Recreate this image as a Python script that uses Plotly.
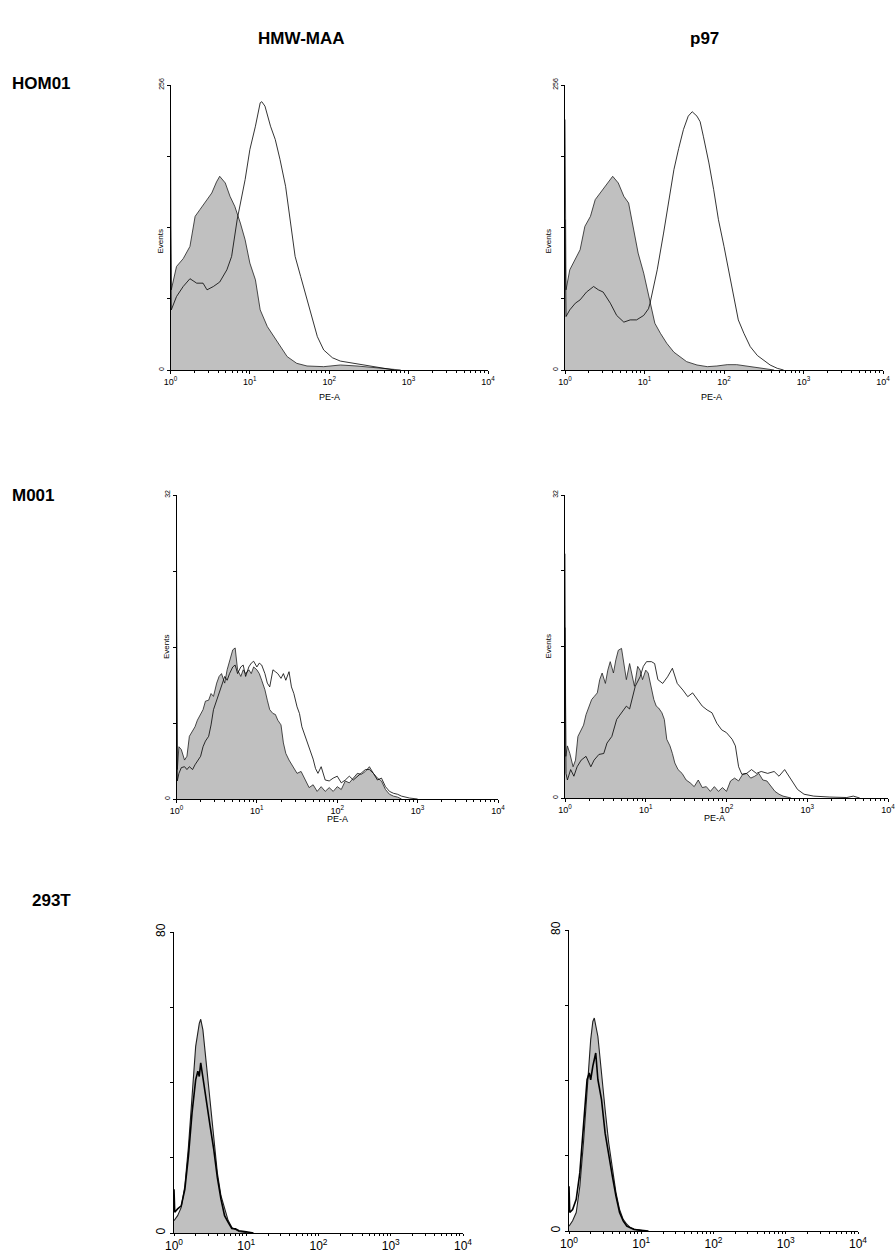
import numpy as np
import plotly.graph_objects as go

# ---------------- data (log10 PE-A position, events) ----------------
# HOM01 / HMW-MAA
HOM01_HMW_CTRL_LOG = [0, 0.01, 0.076, 0.16, 0.245, 0.31, 0.37, 0.456, 0.52, 0.58, 0.62, 0.69, 0.75, 0.81, 0.88, 0.94,
                      1.0, 1.07, 1.13, 1.22, 1.30, 1.38, 1.47, 1.59, 1.72, 1.93, 2.14, 2.35, 2.57, 2.78, 2.9]
HOM01_HMW_CTRL_Y = [225, 72, 93, 100, 111, 138, 144, 153, 159, 169, 174, 168, 156, 147, 132, 117,
                    96, 81, 54, 39, 30, 21, 12, 6, 3.6, 3, 4.5, 3.6, 2, 0.6, 0]
HOM01_HMW_STAIN_LOG = [0, 0.01, 0.076, 0.16, 0.245, 0.33, 0.41, 0.46, 0.54, 0.62, 0.71, 0.77, 0.84, 0.88, 0.94, 1.0,
                       1.07, 1.13, 1.15, 1.19, 1.26, 1.32, 1.38, 1.45, 1.51, 1.57, 1.64, 1.72, 1.78, 1.85, 1.93,
                       2.04, 2.14, 2.31, 2.48, 2.65, 2.82]
HOM01_HMW_STAIN_Y = [130, 54, 66, 75, 82, 78, 78, 72, 75, 79, 90, 102, 135, 150, 171, 198,
                     219, 240, 241, 237, 219, 207, 189, 165, 135, 102, 84, 63, 48, 30, 18,
                     11, 8, 6, 3.6, 1.5, 0]

# HOM01 / p97
HOM01_P97_CTRL_LOG = [0, 0.013, 0.06, 0.13, 0.19, 0.25, 0.32, 0.38, 0.44, 0.53, 0.60, 0.67, 0.74, 0.80, 0.86, 0.92,
                      0.99, 1.07, 1.13, 1.20, 1.28, 1.37, 1.45, 1.53, 1.66, 1.79, 1.91, 2.04, 2.16, 2.29, 2.42,
                      2.54, 2.63]
HOM01_P97_CTRL_Y = [225, 72, 90, 99, 108, 129, 138, 153, 159, 168, 174, 168, 156, 150, 126, 105,
                    87, 60, 42, 33, 24, 16, 12, 7.5, 4.5, 3, 3.6, 4.8, 4.8, 3.6, 2, 1, 0]
HOM01_P97_STAIN_LOG = [0, 0.013, 0.06, 0.13, 0.19, 0.27, 0.36, 0.42, 0.48, 0.57, 0.65, 0.74, 0.82, 0.90, 0.99, 1.05,
                       1.07, 1.16, 1.24, 1.30, 1.37, 1.43, 1.49, 1.55, 1.60, 1.66, 1.70, 1.74, 1.81, 1.87, 1.93,
                       2.0, 2.06, 2.12, 2.18, 2.25, 2.33, 2.42, 2.5, 2.58, 2.67, 2.75]
HOM01_P97_STAIN_Y = [135, 48, 54, 60, 63, 70, 75, 72, 70, 60, 49, 43, 45, 45, 49, 55,
                     60, 90, 123, 150, 180, 199, 216, 228, 232, 228, 223, 210, 186, 162, 135,
                     111, 90, 66, 45, 33, 21, 13, 9, 4.5, 1.5, 0]

# M001 (shared low-range grid)
M001_LOG_LOW = [0, 0.01, 0.03, 0.06, 0.1, 0.13, 0.16, 0.2, 0.23, 0.26, 0.3, 0.33, 0.36, 0.4, 0.43, 0.46,
                0.5, 0.53, 0.56, 0.6, 0.63, 0.66, 0.7, 0.73, 0.76, 0.8, 0.83, 0.86, 0.9, 0.93, 0.96,
                1.0, 1.03, 1.06, 1.1, 1.13, 1.16, 1.2, 1.23, 1.26, 1.3, 1.33, 1.36, 1.4]
M001_LOG_HIGH = [1.45, 1.5, 1.55, 1.6, 1.65, 1.7, 1.75, 1.8, 1.85, 1.9, 1.95, 2.0, 2.05, 2.1, 2.15, 2.2,
                 2.25, 2.3, 2.35, 2.4, 2.45, 2.5, 2.55, 2.6, 2.65, 2.7, 2.75, 2.8]

# M001 / HMW-MAA
M001_HMW_CTRL_Y = [26, 3.1, 5.5, 5.2, 4.1, 4.5, 6.6, 7.1, 7.6, 8.3, 9.0, 9.4, 10.3, 10.4, 11.1, 10.8,
                   12.2, 12.9, 13.2, 12.2, 13.6, 14.5, 15.7, 15.9, 13.6, 12.9, 13.6, 13.2, 13.6, 13.2, 13.9,
                   13.6, 13.2, 12.5, 11.5, 10.4, 9.4, 9.0, 8.9, 8.3, 7.8, 5.9, 4.8, 4.1,
                   3.4, 2.7, 2.9, 2.0, 1.2, 1.5, 0.8, 1.3, 0.8, 1.2, 0.8, 1.3, 1.0, 1.9, 1.7, 2.2,
                   2.7, 2.6, 2.9, 3.4, 2.7, 2.2, 1.9, 1.0, 0.5, 0.3, 0.2, 0]
M001_HMW_STAIN_LOG_TAIL = [1.43, 1.46, 1.5, 1.53, 1.56, 1.6, 1.63, 1.66, 1.7, 1.73, 1.76, 1.8, 1.85, 1.9, 1.95,
                           2.0, 2.05, 2.1, 2.15, 2.2, 2.25, 2.3, 2.35, 2.4, 2.45, 2.5, 2.55, 2.6, 2.65, 2.7,
                           2.75, 2.8, 2.9, 3.0]
M001_HMW_STAIN_Y = [18, 1.9, 2.7, 3.3, 3.4, 3.1, 3.4, 3.1, 3.6, 4.0, 4.5, 5.5, 6.1, 6.6, 7.8, 9.4,
                    10.4, 11.1, 11.8, 12.9, 12.5, 13.2, 13.9, 14.1, 13.2, 13.9, 14.1, 12.9, 13.9, 14.3, 14.5,
                    13.9, 14.3, 14.1, 13.2, 12.2, 11.8, 13.6, 13.4, 13.2, 12.7, 13.2, 12.5, 13.4,
                    11.8, 11.1, 9.7, 9.0, 7.6, 6.6, 5.8, 5.0, 4.2, 3.2, 2.7, 3.4, 2.0, 1.9, 2.2,
                    2.4, 1.7, 2.0, 2.4, 2.0, 2.4, 2.7, 3.1, 3.1, 2.7, 2.0, 2.2, 1.3, 0.8, 0.6,
                    0.5, 0.3, 0.1, 0]

# M001 / p97
M001_P97_CTRL_Y = [25.8, 4.4, 5.5, 4.7, 3.3, 4.0, 6.5, 7.2, 7.7, 8.8, 9.7, 10.4, 10.7, 11.1, 12.5, 13.2,
                   12.1, 13.5, 14.4, 13.2, 14.6, 15.6, 15.8, 13.9, 12.5, 14.2, 12.8, 11.8, 13.9, 13.5, 12.5,
                   13.5, 13.2, 12.1, 10.4, 9.7, 9.5, 9.0, 8.3, 6.2, 5.5, 4.7, 3.7, 3.0,
                   2.6, 1.9, 1.6, 1.2, 1.9, 1.1, 1.2, 0.7, 1.2, 0.7, 1.1, 0.7, 1.8, 2.1, 1.8, 2.5,
                   2.6, 2.1, 2.3, 2.6, 1.9, 1.8, 1.2, 0.7, 0.4, 0.2, 0.1, 0]
M001_P97_STAIN_LOG = [0, 0.012, 0.03, 0.07, 0.11, 0.15, 0.2, 0.26, 0.32, 0.36, 0.42, 0.48, 0.52, 0.58, 0.64,
                      0.70, 0.76, 0.80, 0.87, 0.93, 0.97, 1.01, 1.07, 1.11, 1.15, 1.21, 1.27, 1.33, 1.39,
                      1.46, 1.52, 1.58, 1.64, 1.70, 1.76, 1.82, 1.88, 1.94, 2.0, 2.07, 2.11, 2.15, 2.19,
                      2.25, 2.31, 2.37, 2.43, 2.51, 2.59, 2.65, 2.72, 2.80, 2.88, 2.96, 3.08, 3.28, 3.49,
                      3.57, 3.65]
M001_P97_STAIN_Y = [18, 2.6, 1.9, 3.0, 2.3, 3.3, 4.0, 4.4, 3.3, 4.0, 4.6, 4.7, 5.8, 6.5, 8.3,
                    9.0, 9.7, 9.4, 11.8, 12.8, 13.9, 14.4, 14.4, 14.2, 12.5, 12.1, 12.8, 13.7, 12.1,
                    11.4, 10.7, 11.1, 10.4, 9.7, 9.3, 9.0, 7.9, 7.2, 6.9, 6.2, 5.5, 3.3, 2.5,
                    2.6, 3.0, 2.6, 2.8, 2.6, 2.8, 2.3, 3.0, 1.9, 0.9, 0.4, 0.2, 0.1, 0.05,
                    0.2, 0]

# 293T / HMW-MAA
T293_HMW_CTRL_LOG = [0, 0.05, 0.1, 0.15, 0.2, 0.25, 0.3, 0.35, 0.37, 0.4, 0.45, 0.5, 0.55, 0.6, 0.65, 0.7,
                     0.75, 0.8, 0.85, 0.9, 1.0, 1.05]
T293_HMW_CTRL_Y = [3.3, 4.6, 6.8, 12.5, 23, 35.5, 49.6, 55.7, 56.8, 54, 44.3, 34.6, 24, 16, 9.9, 6.4,
                   3.3, 1.5, 0.9, 0.4, 0.1, 0]
T293_HMW_STAIN_LOG = [0, 0.01, 0.05, 0.1, 0.15, 0.2, 0.25, 0.3, 0.33, 0.35, 0.37, 0.4, 0.45, 0.5, 0.55, 0.6,
                      0.65, 0.7, 0.75, 0.8, 0.85, 0.9, 1.0, 1.1]
T293_HMW_STAIN_Y = [11.6, 5.5, 6.4, 7.2, 11.6, 20.5, 32, 40.7, 43, 41.6, 45.2, 41.2, 33.7, 28.4, 22.2, 14.7,
                    9, 4.6, 2.8, 1.2, 1.1, 0.6, 0.35, 0]

# 293T / p97
T293_P97_CTRL_LOG = [0, 0.05, 0.1, 0.15, 0.2, 0.25, 0.3, 0.33, 0.35, 0.4, 0.45, 0.5, 0.55, 0.6, 0.65, 0.7,
                     0.75, 0.8, 0.85, 0.9, 1.0, 1.05]
T293_P97_CTRL_Y = [1.3, 2.7, 4.9, 11.9, 23.4, 38.5, 50.8, 55.7, 56.6, 51.7, 42.9, 32.3, 23.4, 16.4, 10.2, 5.7,
                   3.1, 1.8, 0.9, 0.5, 0.1, 0]
T293_P97_STAIN_LOG = [0, 0.01, 0.05, 0.1, 0.15, 0.2, 0.25, 0.28, 0.3, 0.33, 0.37, 0.4, 0.45, 0.5, 0.55, 0.6,
                      0.65, 0.7, 0.75, 0.8, 0.9, 1.0, 1.1]
T293_P97_STAIN_Y = [11.9, 4.9, 5.7, 8.4, 15.5, 28.7, 40.2, 42, 40.2, 43.8, 47.3, 40.2, 34.9, 26, 19.9, 14.6,
                    9.3, 4.9, 2.7, 1.3, 0.4, 0.2, 0]

COLUMN_TITLES = ["HMW-MAA", "p97"]
ROW_TITLES = ["HOM01", "M001", "293T"]
X_TICK_TEXT = ["10<sup>0</sup>", "10<sup>1</sup>", "10<sup>2</sup>", "10<sup>3</sup>", "10<sup>4</sup>"]
X_TICK_VALS = [1, 10, 100, 1000, 10000]
Y_MAX = [256, 32, 80]

# ---------------- figure ----------------
W, H = 896, 1253
FONT = "Liberation Sans, Arial, sans-serif"
INK = "black"

panels = [
    dict(ctrl=(HOM01_HMW_CTRL_LOG, HOM01_HMW_CTRL_Y), stain=(HOM01_HMW_STAIN_LOG, HOM01_HMW_STAIN_Y),
         row=0, box=(170.5, 488, 85, 370)),
    dict(ctrl=(HOM01_P97_CTRL_LOG, HOM01_P97_CTRL_Y), stain=(HOM01_P97_STAIN_LOG, HOM01_P97_STAIN_Y),
         row=0, box=(565, 883, 85, 370)),
    dict(ctrl=(M001_LOG_LOW + M001_LOG_HIGH, M001_HMW_CTRL_Y),
         stain=(M001_LOG_LOW + M001_HMW_STAIN_LOG_TAIL, M001_HMW_STAIN_Y),
         row=1, box=(176.5, 498, 495, 799)),
    dict(ctrl=(M001_LOG_LOW + M001_LOG_HIGH, M001_P97_CTRL_Y), stain=(M001_P97_STAIN_LOG, M001_P97_STAIN_Y),
         row=1, box=(565, 888, 495, 798)),
    dict(ctrl=(T293_HMW_CTRL_LOG, T293_HMW_CTRL_Y), stain=(T293_HMW_STAIN_LOG, T293_HMW_STAIN_Y),
         row=2, box=(174, 463, 932, 1233)),
    dict(ctrl=(T293_P97_CTRL_LOG, T293_P97_CTRL_Y), stain=(T293_P97_STAIN_LOG, T293_P97_STAIN_Y),
         row=2, box=(569, 858, 930, 1231)),
]

minor_vals = [m * 10 ** d for d in range(4) for m in range(2, 10)]

fig = go.Figure()
layout = dict(
    template="none",
    width=W, height=H, margin=dict(l=0, r=0, t=0, b=0),
    paper_bgcolor="white", plot_bgcolor="white", showlegend=False,
    font=dict(family=FONT, color=INK),
)
annotations = []

for i, p in enumerate(panels):
    k = "" if i == 0 else str(i + 1)
    row = p["row"]
    x0, x1, y0, y1 = p["box"]
    ymax = Y_MAX[row]
    big = row == 2
    lw_ctrl = 1.1 if big else 0.8
    lw_stain = 1.6 if big else 0.8

    cl, cy = p["ctrl"]
    sl, sy = p["stain"]
    fig.add_trace(go.Scatter(x=10 ** np.array(cl, dtype=float), y=cy, mode="lines",
                             fill="tozeroy", fillcolor="#c0c0c0",
                             line=dict(color="#202020", width=lw_ctrl),
                             xaxis="x" + k, yaxis="y" + k, hoverinfo="skip"))
    fig.add_trace(go.Scatter(x=10 ** np.array(sl, dtype=float), y=sy, mode="lines",
                             line=dict(color=INK, width=lw_stain),
                             xaxis="x" + k, yaxis="y" + k, hoverinfo="skip"))

    layout["xaxis" + k] = dict(
        type="log", range=[0, 4], domain=[x0 / W, x1 / W], anchor="y" + k,
        showline=True, linecolor=INK, linewidth=1, mirror=False,
        showgrid=False, zeroline=False, ticks="outside", ticklen=2 if big else 3, tickcolor=INK, tickwidth=1,
        tickmode="array", tickvals=X_TICK_VALS, ticktext=X_TICK_TEXT,
        tickfont=dict(size=12 if big else 9, family=FONT, color=INK),
        minor=dict(tickmode="array", tickvals=minor_vals, ticks="outside", ticklen=2,
                   tickcolor=INK, tickwidth=1, showgrid=False),
        fixedrange=True,
    )
    q = ymax / 4
    layout["yaxis" + k] = dict(
        range=[0, ymax], domain=[1 - y1 / H, 1 - y0 / H], anchor="x" + k,
        showline=True, linecolor=INK, linewidth=1,
        showgrid=False, zeroline=False, ticks="outside", ticklen=3, tickcolor=INK, tickwidth=1,
        tickmode="array", tickvals=[0, ymax], ticktext=["0", str(ymax)],
        minor=dict(tickmode="array", tickvals=[q, 2 * q, 3 * q], ticks="outside", ticklen=3,
                   tickcolor=INK, tickwidth=1, showgrid=False),
        tickangle=-90, tickfont=dict(size=12 if big else 7, family=FONT, color=INK),
        fixedrange=True,
    )

    if not big:
        annotations.append(dict(text="Events", x=(x0 - 17) / W, y=1 - ((y0 + y1) / 2) / H,
                                xref="paper", yref="paper", showarrow=False, textangle=-90,
                                font=dict(size=8, family=FONT, color=INK)))
        xc = x0 + (x1 - x0) / 2
        annotations.append(dict(text="PE-A", x=xc / W, y=1 - (y1 + 20) / H,
                                xref="paper", yref="paper", showarrow=False,
                                font=dict(size=9, family=FONT, color=INK)))

# column titles
for t, xc in zip(COLUMN_TITLES, [256, 721]):
    annotations.append(dict(text="<b>%s</b>" % t, x=xc / W, y=1 - 27 / H, xref="paper", yref="paper",
                            showarrow=False, font=dict(size=17, family=FONT, color=INK)))
# row titles
for t, (xl, yc) in zip(ROW_TITLES, [(10, 72), (10, 496), (30, 912)]):
    annotations.append(dict(text="<b>%s</b>" % t, x=xl / W, y=1 - yc / H, xref="paper", yref="paper",
                            xanchor="left", showarrow=False, font=dict(size=17, family=FONT, color=INK)))

layout["annotations"] = annotations
fig.update_layout(**layout)
fig.write_html("out.html")
